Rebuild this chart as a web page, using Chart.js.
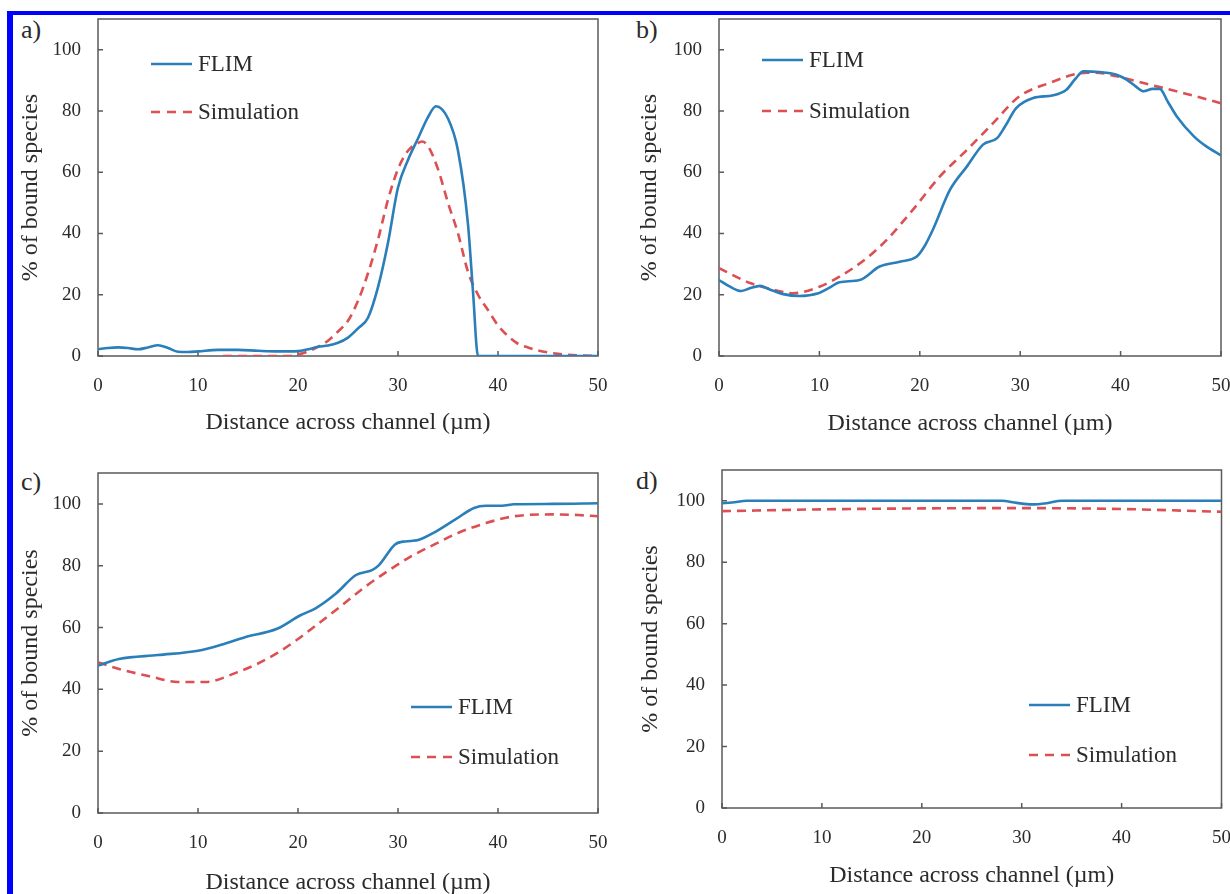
<!DOCTYPE html>
<html>
<head>
<meta charset="utf-8">
<script src="https://cdn.jsdelivr.net/npm/chart.js@4.4.0/dist/chart.umd.min.js"></script>
<style>
    body { margin: 0; width: 1230px; height: 894px; overflow: hidden; background: #fff; position: relative; font-family: "Liberation Serif", serif; }
    #frame { position: absolute; left: 7px; top: 11px; right: -20px; bottom: -20px; border-left: 6px solid #0000ff; border-top: 4px solid #0000ff; }
    canvas { position: absolute; }
    .tag { position: absolute; font-size: 26px; color: #2b2b2b; line-height: 1; }
</style>
</head>
<body>
<div id="frame"></div>
<div class="tag" style="left:21px;top:17px">a)</div>
<div class="tag" style="left:636px;top:17px">b)</div>
<div class="tag" style="left:21px;top:469px">c)</div>
<div class="tag" style="left:636px;top:468px">d)</div>
<canvas id="chartA" width="618" height="467" style="left:12px;top:-20px"></canvas>
<canvas id="chartB" width="638" height="467" style="left:612px;top:-20px"></canvas>
<canvas id="chartC" width="618" height="480" style="left:12px;top:427px"></canvas>
<canvas id="chartD" width="638" height="480" style="left:612px;top:427px"></canvas>
<script>
// axis ticks
const xTicks = [0, 10, 20, 30, 40, 50];
const yTicks = [0, 20, 40, 60, 80, 100];

// a)
const aFlimX = [0, 1, 2, 3, 4, 5, 6, 7, 8, 9, 10, 12, 14, 16, 18, 20, 21, 22, 23, 24, 25, 26, 27, 28, 29, 30, 31, 32, 33, 33.8, 35, 36, 37, 37.5, 38, 40, 45, 50];
const aFlimY = [2.2, 2.6, 2.8, 2.6, 2.2, 2.8, 3.5, 2.6, 1.4, 1.3, 1.5, 2, 2, 1.7, 1.5, 1.6, 2.2, 3, 3.4, 4.3, 6, 9, 12.5, 22.5, 37, 55, 64, 71, 78, 81.5, 77.5, 67, 43, 21, 0, 0, 0, 0];
const aSimX = [12.5, 16, 19, 20, 21, 22, 23, 24, 25, 26, 27, 28, 29, 30, 31, 32, 32.4, 33, 34, 35, 36, 37, 38, 39, 40, 41, 42, 43, 44, 46, 48, 50];
const aSimY = [0, 0, 0, 0.5, 1.5, 3, 5, 8, 11.5, 18, 27, 38, 51, 61, 67, 69.5, 70, 68.5, 61, 50, 40, 27.5, 20, 15, 10, 6.5, 4, 2.8, 1.8, 0.7, 0.2, 0];

// b)
const bFlimX = [0, 1, 2.2, 3, 4.1, 5, 6.4, 8, 9.9, 11, 12, 14, 16, 18, 19.7, 20.5, 21.3, 23, 24.7, 26.3, 27.7, 28.5, 29.6, 31.3, 33.3, 34.6, 35.5, 36.3, 37.9, 39.6, 40.6, 41.5, 42.3, 43.2, 43.9, 44.7, 45.6, 47.3, 48.5, 50];
const bFlimY = [24.8, 22.8, 21.2, 22, 22.9, 21.8, 20.2, 19.6, 20.5, 22.3, 24.1, 24.8, 29.2, 30.8, 32.5, 36, 41.2, 54.2, 61.9, 69, 71.1, 75, 80.9, 84.2, 85.1, 86.9, 90.5, 92.9, 92.7, 91.8, 90.2, 88, 86.4, 87.2, 87.2, 83, 78.2, 71.7, 68.5, 65.5];
const bSimX = [0, 3.1, 5, 7.4, 10, 12, 14.7, 16.7, 19.3, 22, 24.7, 27.3, 29.9, 32.9, 36.3, 37.5, 39.6, 42.9, 46.3, 50];
const bSimY = [28.7, 23.8, 22, 20.5, 22.6, 25.9, 31.9, 37.9, 47.7, 58.6, 67.3, 76, 84.7, 89.1, 92.4, 92.5, 91.3, 88.6, 85.8, 82.5];

// c)
const cFlimX = [0, 2.1, 6, 10, 12.3, 14.7, 17.9, 20.2, 21.8, 23.8, 25.8, 27.4, 28.1, 29.7, 30.5, 31.3, 32.1, 33.7, 35.7, 37.6, 38.8, 40.4, 41.6, 45.5, 50];
const cFlimY = [47.7, 49.8, 51.1, 52.5, 54.4, 56.9, 59.6, 63.9, 66.3, 71, 77, 78.6, 80.2, 86.9, 87.8, 88, 88.4, 90.9, 94.9, 98.7, 99.4, 99.4, 99.9, 100, 100.2];
const cSimX = [0, 2.1, 5.2, 8, 10.8, 13.9, 15.9, 17.9, 19.8, 21.8, 24.2, 26.6, 28.9, 31.3, 33.7, 36, 38.8, 41.6, 45.5, 48, 50];
const cSimY = [48.8, 46.6, 44.2, 42.4, 42.4, 45.5, 48.2, 51.7, 55.8, 60.7, 66.7, 72.9, 78.1, 83, 87, 90.6, 93.8, 96, 96.6, 96.4, 96];

// d)
const dFlimX = [0, 1, 2.5, 10, 20, 28, 29.5, 31, 32.5, 34, 40, 50];
const dFlimY = [99.2, 99.4, 100, 100, 100, 100, 99.3, 98.8, 99.2, 100, 100, 100];
const dSimX = [0, 10, 20, 30, 40, 50];
const dSimY = [96.6, 97.2, 97.5, 97.6, 97.3, 96.4];

const textColor = '#2b2b2b';
const flimColor = '#2a7fba';
const simColor = '#dc4f52';

Chart.defaults.font.family = '"Liberation Serif", serif';
Chart.defaults.color = textColor;

function toPoints(xs, ys) {
    return xs.map((x, i) => ({ x: x, y: ys[i] }));
}

// box round the plot with short inward ticks
const framePlugin = {
    id: 'frame',
    beforeDatasetsDraw(chart) {
        const { ctx, chartArea: a, scales } = chart;
        ctx.save();
        ctx.strokeStyle = '#5a5a5a';
        ctx.lineWidth = 1.5;
        ctx.strokeRect(a.left, a.top, a.right - a.left, a.bottom - a.top);
        ctx.beginPath();
        xTicks.forEach(v => {
            const px = scales.x.getPixelForValue(v);
            ctx.moveTo(px, a.bottom);
            ctx.lineTo(px, a.bottom - 5);
        });
        yTicks.forEach(v => {
            const py = scales.y.getPixelForValue(v);
            ctx.moveTo(a.left, py);
            ctx.lineTo(a.left + 5, py);
        });
        ctx.stroke();
        ctx.restore();
    }
};

function makeLegend(x, y, gap) {
    return {
        id: 'miniLegend',
        afterDraw(chart) {
            const ctx = chart.ctx;
            ctx.save();
            ctx.font = '23px "Liberation Serif"';
            ctx.textBaseline = 'middle';
            ctx.fillStyle = textColor;
            chart.data.datasets.forEach((ds, i) => {
                const ly = y + i * gap;
                ctx.strokeStyle = ds.borderColor;
                ctx.lineWidth = ds.borderWidth;
                ctx.setLineDash(ds.legendDash || []);
                ctx.beginPath();
                ctx.moveTo(x, ly);
                ctx.lineTo(x + 41, ly);
                ctx.stroke();
                ctx.setLineDash([]);
                ctx.fillText(ds.label, x + 47, ly + 1);
            });
            ctx.restore();
        }
    };
}

function makePanel(id, left, top, area, yTitleX, xTitleY, legend, flimX, flimY, simX, simY) {
    const canvas = document.getElementById(id);
    const W = canvas.width, H = canvas.height;
    const titleSize = 24;
    const titleHalf = titleSize * 1.2 / 2;
    const yAxisLeft = yTitleX - titleHalf - 4 - left;
    const yAxisWidth = area.l - left - yAxisLeft;
    const xAxisBottom = xTitleY + titleHalf + 4 - top;
    const xAxisHeight = xAxisBottom - (area.b - top);
    const pad = {
        left: yAxisLeft,
        top: area.t - top,
        right: left + W - area.r,
        bottom: H - xAxisBottom
    };

    const chart = new Chart(canvas.getContext('2d'), {
        type: 'line',
        data: {
            datasets: [{
                label: 'FLIM',
                data: toPoints(flimX, flimY),
                borderColor: flimColor,
                borderWidth: 2.6,
                pointRadius: 0,
                cubicInterpolationMode: 'monotone',
                fill: false
            }, {
                label: 'Simulation',
                data: toPoints(simX, simY),
                borderColor: simColor,
                borderWidth: 2.6,
                borderDash: [9, 6],
                legendDash: [9, 7],
                pointRadius: 0,
                cubicInterpolationMode: 'monotone',
                fill: false
            }]
        },
        options: {
            responsive: false,
            animation: false,
            layout: { padding: Object.assign({}, pad) },
            plugins: {
                legend: { display: false },
                tooltip: { enabled: false }
            },
            scales: {
                x: {
                    type: 'linear',
                    min: 0,
                    max: 50,
                    afterBuildTicks: s => { s.ticks = xTicks.map(v => ({ value: v })); },
                    afterFit: s => { s.height = xAxisHeight; },
                    grid: { display: false, drawTicks: false },
                    border: { display: false },
                    ticks: { padding: 19, maxRotation: 0, font: { size: 19 }, color: textColor },
                    title: {
                        display: true,
                        text: 'Distance across channel (\u00b5m)',
                        font: { size: titleSize },
                        color: textColor,
                        padding: { top: 4, bottom: 4 }
                    }
                },
                y: {
                    min: 0,
                    max: 110,
                    afterBuildTicks: s => { s.ticks = yTicks.map(v => ({ value: v })); },
                    afterFit: s => { s.width = yAxisWidth; },
                    grid: { display: false, drawTicks: false },
                    border: { display: false },
                    ticks: { padding: 17, font: { size: 19 }, color: textColor },
                    title: {
                        display: true,
                        text: '% of bound species',
                        font: { size: titleSize },
                        color: textColor,
                        padding: { top: 4, bottom: 4 }
                    }
                }
            }
        },
        plugins: [framePlugin, makeLegend(legend.x - left, legend.y - top, legend.gap)]
    });

    // the tick labels add their own room at the top and right; take it back out of the padding
    for (let k = 0; k < 2; k++) {
        const a = chart.chartArea;
        pad.top += (area.t - top) - a.top;
        pad.right += a.right - (area.r - left);
        chart.options.layout.padding = Object.assign({}, pad);
        chart.update();
    }
}

makePanel('chartA', 12, -20, { l: 98, t: 19, r: 598, b: 356 }, 31, 423, { x: 151, y: 64, gap: 48 }, aFlimX, aFlimY, aSimX, aSimY);
makePanel('chartB', 612, -20, { l: 719, t: 19, r: 1221, b: 356 }, 650, 424, { x: 762, y: 60, gap: 51 }, bFlimX, bFlimY, bSimX, bSimY);
makePanel('chartC', 12, 427, { l: 98, t: 473, r: 598, b: 813 }, 31, 883, { x: 411, y: 707, gap: 50 }, cFlimX, cFlimY, cSimX, cSimY);
makePanel('chartD', 612, 427, { l: 722, t: 470, r: 1223, b: 808 }, 651, 876, { x: 1029, y: 705, gap: 50 }, dFlimX, dFlimY, dSimX, dSimY);
</script>
</body>
</html>
